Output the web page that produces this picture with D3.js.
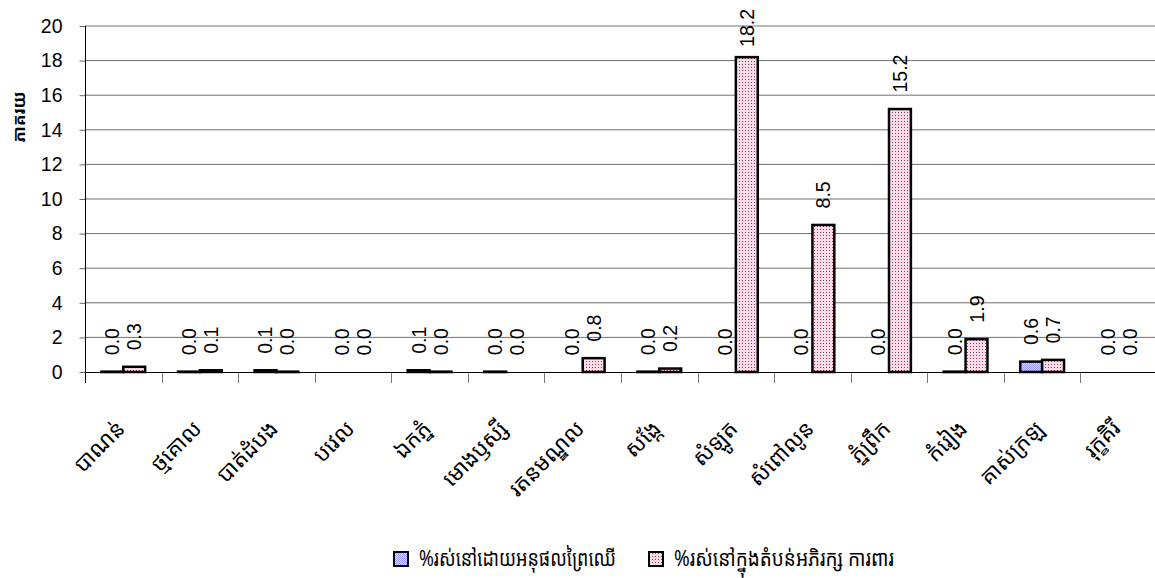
<!DOCTYPE html>
<html>
<head>
<meta charset="utf-8">
<script src="https://cdn.jsdelivr.net/npm/d3@7"></script>
<style>
  html, body { margin: 0; padding: 0; background: #fff; }
  svg { display: block; }
  .num { font-family: "Liberation Sans", Arial, sans-serif; }
  .kh { font-family: "Khmer OS", "Noto Sans Khmer", "Khmer OS System", "Noto Sans", sans-serif; }
</style>
</head>
<body>
<svg id="chart" width="1155" height="578"></svg>
<script>
const categories = ["បាណន់", "ថ្មគោល", "បាត់ដំបង", "បវេល", "ឯកភ្នំ", "មោងឫស្សី", "រតនមណ្ឌល",
  "សង្កែ", "សំឡូត", "សំពៅលូន", "ភ្នំព្រឹក", "កំរៀង", "គាស់ក្រឡ", "រុក្ខគិរី"];
const forestProducts = [0.02, 0.02, 0.1, 0, 0.1, 0.02, 0, 0.02, 0, 0, 0, 0.02, 0.6, 0];
const protectedArea = [0.3, 0.1, 0.02, 0, 0.02, 0, 0.8, 0.2, 18.2, 8.5, 15.2, 1.9, 0.7, 0];
const seriesNames = ["%រស់នៅដោយអនុផលព្រៃឈើ", "%រស់នៅក្នុងតំបន់អភិរក្ស ការពារ"];
const yTicks = [0, 2, 4, 6, 8, 10, 12, 14, 16, 18, 20];
const yTitle = "ភាគរយ";

const svg = d3.select("#chart");
const defs = svg.append("defs");

// blue dotted pattern
const pb = defs.append("pattern").attr("id", "pBlue").attr("patternUnits", "userSpaceOnUse")
  .attr("width", 2).attr("height", 2);
pb.append("rect").attr("width", 2).attr("height", 2).attr("fill", "#d4d4ff");
pb.append("rect").attr("width", 1).attr("height", 1).attr("fill", "#9a9aff");
pb.append("rect").attr("x", 1).attr("y", 1).attr("width", 1).attr("height", 1).attr("fill", "#9a9aff");

// pink dotted pattern
const pp = defs.append("pattern").attr("id", "pPink").attr("patternUnits", "userSpaceOnUse")
  .attr("width", 3).attr("height", 3);
pp.append("rect").attr("width", 3).attr("height", 3).attr("fill", "#f9dde8");
pp.append("rect").attr("x", 1).attr("y", 1).attr("width", 1).attr("height", 1).attr("fill", "#a8306a");

const fills = ["url(#pBlue)", "url(#pPink)"];
const series = [forestProducts, protectedArea];

const x = d3.scaleBand().domain(categories).range([85, 1157]).paddingInner(0).paddingOuter(0);
const xs = d3.scaleBand().domain([0, 1]).range([0, x.bandwidth()]).paddingInner(0).paddingOuter(0.75);
const y = d3.scaleLinear().domain([0, 20]).range([372, 26]);

// gridlines
svg.append("g").selectAll("line").data(yTicks.filter(d => d > 0)).join("line")
  .attr("x1", 85).attr("x2", 1155)
  .attr("y1", d => y(d)).attr("y2", d => y(d))
  .attr("stroke", "#707070").attr("stroke-width", 1);

// y axis
const yAxis = d3.axisLeft(y).tickValues(yTicks).tickSize(6).tickPadding(17).tickFormat(d3.format("d"));
const gy = svg.append("g").attr("transform", "translate(85.5,0)").call(yAxis);
gy.select(".domain").remove();
gy.selectAll(".tick line").attr("stroke", "#666");
gy.selectAll(".tick text").attr("class", "num").attr("font-size", 19.5).attr("fill", "#000");
svg.append("line").attr("x1", 85.5).attr("x2", 85.5).attr("y1", y(20)).attr("y2", 383)
  .attr("stroke", "#000").attr("stroke-width", 1);

// x axis ticks at category boundaries
svg.append("g").selectAll("line").data(categories.slice(1)).join("line")
  .attr("x1", d => Math.round(x(d)) + 0.5).attr("x2", d => Math.round(x(d)) + 0.5)
  .attr("y1", 372).attr("y2", 383).attr("stroke", "#777");

// bars
series.forEach((vals, si) => {
  svg.append("g").selectAll("rect").data(categories.map((c, i) => ({ c, v: vals[i] })).filter(d => d.v > 0))
    .join("rect")
    .attr("x", d => x(d.c) + xs(si))
    .attr("y", d => y(d.v))
    .attr("width", xs.bandwidth())
    .attr("height", d => Math.max(0.4, y(0) - y(d.v)))
    .attr("fill", fills[si])
    .attr("stroke", "#000").attr("stroke-width", 2.5);
});

// x axis baseline
svg.append("line").attr("x1", 85).attr("x2", 1155).attr("y1", 372.5).attr("y2", 372.5)
  .attr("stroke", "#000").attr("stroke-width", 1);

// value labels
series.forEach((vals, si) => {
  const g = svg.append("g");
  categories.forEach((c, i) => {
    const cx = x(c) + xs(si) + xs.bandwidth() / 2;
    const t = g.append("text").attr("class", "num").attr("font-size", 19.5)
      .attr("text-anchor", "start").text(vals[i].toFixed(1));
    const len = t.node().getComputedTextLength();
    const yb = Math.max(y(vals[i]) - 16.5, len + 9);
    t.attr("transform", `translate(${cx + 7},${yb}) rotate(-90)`);
  });
});

// category labels
svg.append("g").selectAll("text").data(categories).join("text")
  .attr("class", "kh").attr("font-size", 22).attr("text-anchor", "end")
  .attr("transform", d => `translate(${x(d) + x.bandwidth() / 2 + 3},${430}) rotate(-45)`)
  .text(d => d);

// y title
svg.append("text").attr("class", "kh").attr("font-size", 17).attr("font-weight", "bold")
  .attr("text-anchor", "middle")
  .attr("transform", "translate(25,117) rotate(-90)").text(yTitle);

// legend
const lg = svg.append("g");
const legendBoxX = [394, 649];
const legendTextLen = [197, 220];
seriesNames.forEach((n, i) => {
  lg.append("rect").attr("x", legendBoxX[i]).attr("y", 552).attr("width", 14).attr("height", 14)
    .attr("fill", fills[i]).attr("stroke", "#000").attr("stroke-width", 2);
  lg.append("text").attr("class", "kh").attr("font-size", 22)
    .attr("x", legendBoxX[i] + 25).attr("y", 566)
    .attr("textLength", legendTextLen[i]).attr("lengthAdjust", "spacingAndGlyphs")
    .text(n);
});
</script>
</body>
</html>
